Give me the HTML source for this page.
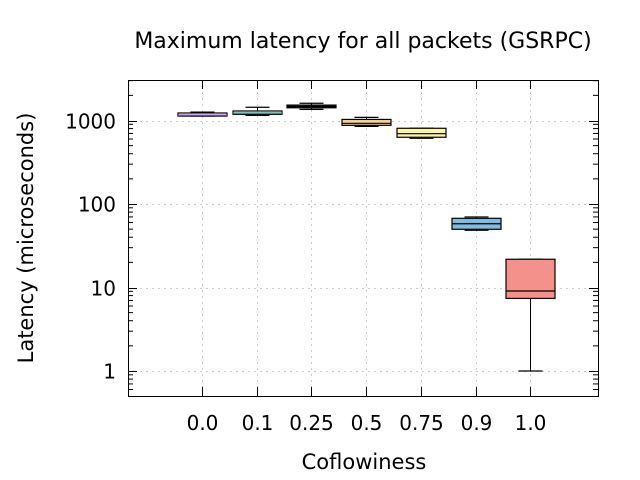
<!DOCTYPE html>
<html><head><meta charset="utf-8"><style>
body{margin:0;background:#fff;}
svg{display:block;font-family:"DejaVu Sans","Liberation Sans",sans-serif;}
</style></head><body>
<svg id="chart" width="640" height="480" viewBox="0 0 640 480">
<g id="grid"></g>
<g id="boxes"></g>
<rect x="128.5" y="80.5" width="470" height="316" fill="none" stroke="#000" stroke-width="1"/>
<g id="ticks"></g>
<text x="363" y="48" font-size="22" text-anchor="middle">Maximum latency for all packets (GSRPC)</text>
<text x="364" y="469" font-size="21" text-anchor="middle">Coflowiness</text>
<text transform="translate(33,238) rotate(-90)" font-size="21" text-anchor="middle">Latency (microseconds)</text>
</svg>
<script>
const categories=["0.0","0.1","0.25","0.5","0.75","0.9","1.0"];
const whiskerLow=[1130,1150,1360,850,612,48.4,1];
const boxLow=[1130,1186,1420,875,630,49.8,7.4];
const medians=[1160,1230,1470,925,695,58,9.08];
const boxHigh=[1230,1300,1530,1030,807,67.4,21.8];
const whiskerHigh=[1260,1440,1610,1090,807,70,21.8];
const yTickVals=[1,10,100,1000];
const yTickLabels=["1","10","100","1000"];
const fills=["#fff","#fff","#333","#fdd68c","#fff5a6","#82bbe0","#f4918a"];
const medColors=["#9b59c8","#2aa58a","#000","#000","#000","#000","#000"];
const NS="http://www.w3.org/2000/svg";
const X0=128,X1=598,Y0=80,Y1=396;
const xs=i=>202+i*54.7;
const ys=v=>371-83.5*Math.log10(v);
function mk(tag,attrs,parent){const e=document.createElementNS(NS,tag);for(const k in attrs)e.setAttribute(k,attrs[k]);parent.appendChild(e);return e;}
const grid=document.getElementById('grid'),boxes=document.getElementById('boxes'),ticks=document.getElementById('ticks');
yTickVals.forEach((v,i)=>{
 const y=Math.round(ys(v))+0.5;
 const g=mk('line',{x1:X0,x2:X1,y1:y,y2:y,stroke:'#ccc','stroke-dasharray':'2,4'},grid);
 
 
 mk('line',{x1:X0,x2:X0+9,y1:y,y2:y,stroke:'#000'},ticks);
 mk('line',{x1:X1-9,x2:X1,y1:y,y2:y,stroke:'#000'},ticks);
 const t=mk('text',{x:X0-12,y:y+7,'font-size':20,'text-anchor':'end'},ticks);
 t.textContent=yTickLabels[i];
 
 
});
for(let d=-1;d<4;d++)for(let m=2;m<10;m++){const v=m*Math.pow(10,d);const y=ys(v);if(y<Y0||y>Y1)continue;
 mk('line',{x1:X0,x2:X0+5,y1:y,y2:y,stroke:'#000'},ticks);mk('line',{x1:X1-5,x2:X1,y1:y,y2:y,stroke:'#000'},ticks);}
categories.forEach((c,i)=>{
 const x=Math.round(xs(i))+0.5;
 const g=mk('line',{x1:x,x2:x,y1:Y0,y2:Y1,stroke:'#ccc','stroke-dasharray':'2,4'},grid);
 
 
 mk('line',{x1:x,x2:x,y1:Y1-9,y2:Y1,stroke:'#000'},ticks);
 mk('line',{x1:x,x2:x,y1:Y0,y2:Y0+9,stroke:'#000'},ticks);
 const t=mk('text',{x:x,y:430,'font-size':20,'text-anchor':'middle'},ticks);
 t.textContent=c;
 
 
 const g2=mk('g',{},boxes);
 
 
 const w=49,hw=12;
 mk('line',{x1:x,x2:x,y1:ys(whiskerHigh[i]),y2:ys(boxHigh[i]),stroke:'#000'},g2);
 mk('line',{x1:x,x2:x,y1:ys(whiskerLow[i]),y2:ys(boxLow[i]),stroke:'#000'},g2);
 mk('line',{x1:x-hw,x2:x+hw,y1:ys(whiskerHigh[i]),y2:ys(whiskerHigh[i]),stroke:'#000','stroke-width':1.2},g2);
 mk('line',{x1:x-hw,x2:x+hw,y1:ys(whiskerLow[i]),y2:ys(whiskerLow[i]),stroke:'#000','stroke-width':1.2},g2);
 const top=ys(boxHigh[i]),bot=ys(boxLow[i]);
 mk('rect',{x:x-w/2,y:top,width:w,height:Math.max(bot-top,1),fill:fills[i],stroke:'#000','stroke-width':1.2},g2);
 mk('line',{x1:x-w/2,x2:x+w/2,y1:ys(medians[i]),y2:ys(medians[i]),stroke:medColors[i],'stroke-width':1.2},g2);
});
</script>
</body></html>
